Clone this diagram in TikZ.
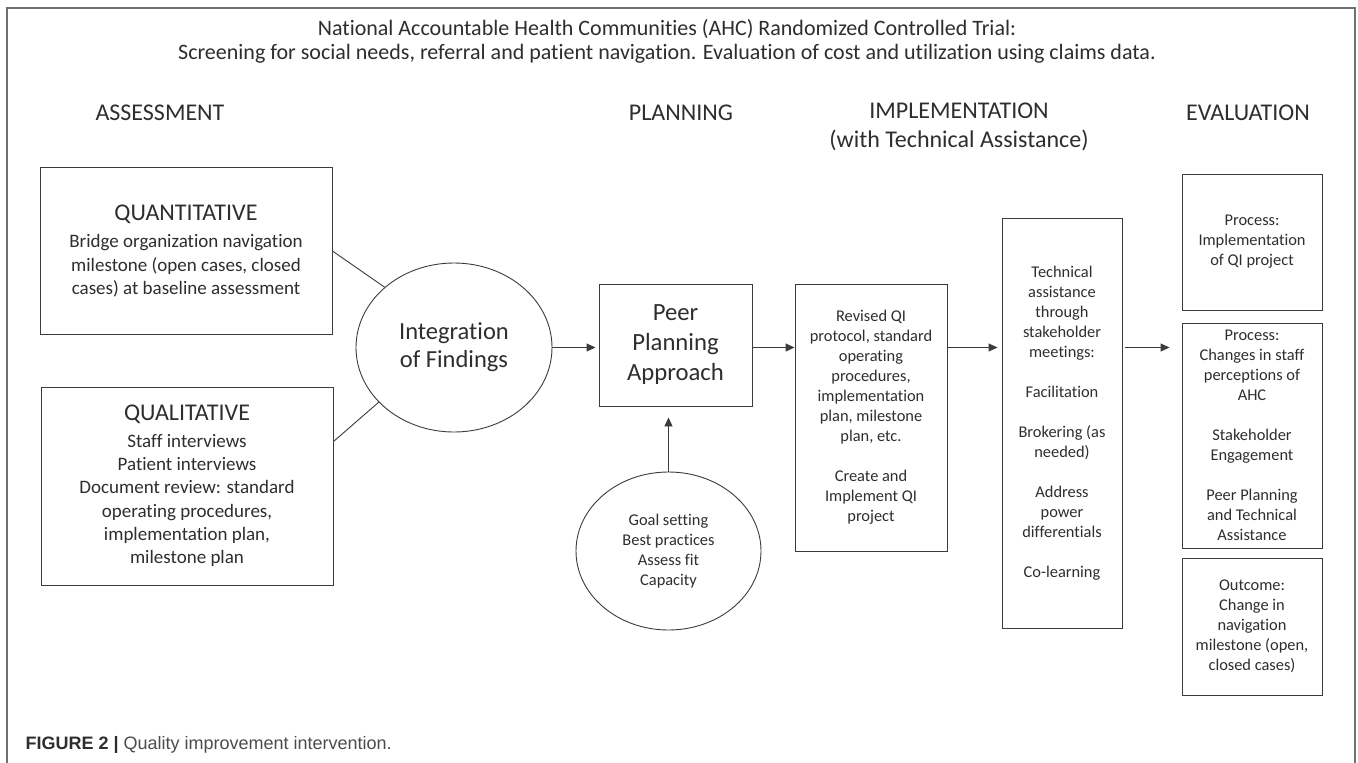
\documentclass[tikz,border=0pt]{standalone}
\usepackage{fontspec}
\setmainfont{Carlito}[Ligatures={NoCommon}]
\newfontfamily\capfont{Liberation Sans}
\usetikzlibrary{shapes.geometric,arrows.meta}
\definecolor{inkgray}{HTML}{2E2E2E}
\definecolor{linegray}{HTML}{3C3C3C}
\definecolor{framegray}{HTML}{707070}

\begin{document}
\begin{tikzpicture}[x=1pt, y=-1pt,
  every node/.style={text=inkgray},
  stage/.style={font=\fontsize{24}{29}\selectfont, align=center},
  panel/.style={draw=linegray, line width=0.9pt, inner sep=0pt, align=center,
    font=\fontsize{16.4}{20}\selectfont},
  bubble/.style={panel, ellipse},
  flow/.style={draw=linegray, line width=0.9pt, -{Triangle[length=9pt,width=8pt]}},
  link/.style={draw=linegray, line width=0.9pt}]
  \useasboundingbox[fill=white] (0,0) rectangle (1358,763);
  % --- outer frame (open at the bottom) ---
  \draw[framegray, line width=1.4pt] (7,763) -- (7,8) -- (1355,8) -- (1355,763);

  % --- title and stage headings ---
  \node[align=center, font=\fontsize{22}{24}\selectfont] (title) at (667,41)
    {National Accountable Health Communities (AHC) Randomized Controlled Trial:\\
     Screening for social needs, referral and patient navigation. Evaluation of cost and utilization using claims data.};
  \node[stage] (hassess) at (160,113) {ASSESSMENT};
  \node[stage] (hplan) at (681,113) {PLANNING};
  \node[stage, anchor=north] (himpl) at (959,99) {IMPLEMENTATION\\(with Technical Assistance)};
  \node[stage] (heval) at (1248,113) {EVALUATION};

  % --- assessment ---
  \node[panel, minimum width=292, minimum height=167, font=\fontsize{19}{23.3}\selectfont]
    (quant) at (186,251)
    {{\fontsize{24}{28}\selectfont QUANTITATIVE}\\[4pt]
     Bridge organization navigation\\ milestone (open cases, closed\\ cases) at baseline assessment};
  \node[panel, minimum width=292, minimum height=198, font=\fontsize{19}{23.3}\selectfont]
    (qual) at (187,486)
    {{\fontsize{24}{28}\selectfont QUALITATIVE}\\[3pt]
     Staff interviews\\ Patient interviews\\ Document review: standard\\
     operating procedures,\\ implementation plan,\\ milestone plan};
  \node[bubble, minimum width=196, minimum height=169, font=\fontsize{24.5}{28}\selectfont]
    (integ) at (454,347.5) {Integration\\ of Findings};

  % --- planning ---
  \node[panel, minimum width=153, minimum height=122, font=\fontsize{24.7}{30}\selectfont]
    (peer) at (675.5,345) {Peer\\ Planning\\ Approach};
  \node[bubble, minimum width=185, minimum height=158] (goal) at (668.5,551)
    {Goal setting\\ Best practices\\ Assess fit\\ Capacity};

  % --- implementation ---
  \node[panel, minimum width=152, minimum height=267] (revised) at (871,417.5)
    {Revised QI\\ protocol, standard\\ operating\\ procedures,\\ implementation\\
     plan, milestone\\ plan, etc.\\[20pt] Create and\\ Implement QI\\ project};
  \node[panel, minimum width=120, minimum height=410] (tech) at (1062,423)
    {Technical\\ assistance\\ through\\ stakeholder\\ meetings:\\[20pt]
     Facilitation\\[20pt] Brokering (as\\ needed)\\[20pt]
     Address\\ power\\ differentials\\[20pt] Co-learning};

  % --- evaluation ---
  \node[panel, minimum width=140, minimum height=136] (evala) at (1252,242)
    {Process:\\ Implementation\\ of QI project};
  \node[panel, minimum width=140, minimum height=225] (evalb) at (1252,435.5)
    {Process:\\ Changes in staff\\ perceptions of\\ AHC\\[20pt]
     Stakeholder\\ Engagement\\[20pt] Peer Planning\\ and Technical\\ Assistance};
  \node[panel, minimum width=140, minimum height=137] (evalc) at (1252,626.5)
    {Outcome:\\ Change in\\ navigation\\ milestone (open,\\ closed cases)};

  % --- connectors ---
  \draw[link] (quant.east) -- (integ.139);
  \draw[link] ([yshift=-55pt]qual.north east) -- (integ.216);
  \draw[flow, shorten >=3pt] (integ.east) -- (integ.east -| peer.west);
  \draw[flow] (peer.east |- integ.east) -- (integ.east -| revised.west);
  \draw[flow, shorten >=4pt] (revised.east |- integ.east) -- (integ.east -| tech.west);
  \draw[flow, shorten <=3pt, shorten >=12pt] (tech.east |- integ.east) -- (integ.east -| evalb.west);
  \draw[flow, shorten >=11pt] (goal.north) -- (goal.north |- peer.south);

  % --- caption ---
  \node[anchor=base west, font=\capfont\fontsize{18}{22}\selectfont] (caption) at (22,749)
    {\textbf{FIGURE 2 |} \color{black!70}Quality improvement intervention.};
\end{tikzpicture}
\end{document}
